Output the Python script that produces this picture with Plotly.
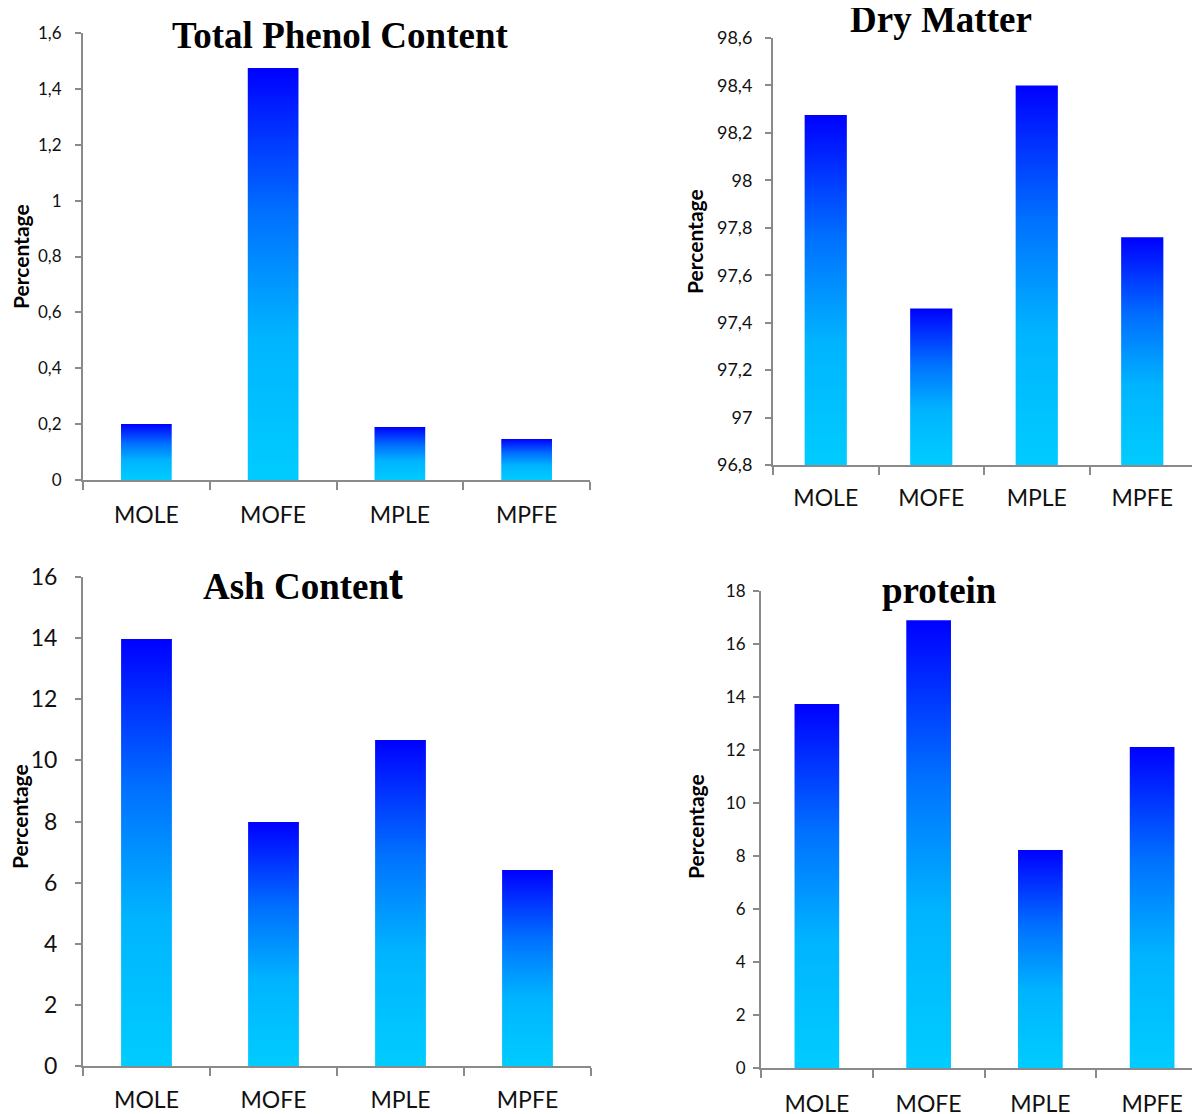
import plotly.graph_objects as go

categories = ["MOLE", "MOFE", "MPLE", "MPFE"]

phenol_values = [0.20, 1.475, 0.19, 0.147]
dry_matter_values = [98.275, 97.46, 98.40, 97.76]
ash_values = [13.97, 7.98, 10.67, 6.41]
protein_values = [13.74, 16.90, 8.23, 12.11]

titles = ["Total Phenol Content", "Dry Matter",
          "Ash Content", "protein"]
y_axis_title = "Percentage"

W, H = 1200, 1114
OFF = 8  # page body margin
BAR_W = 0.4
GRAD = [[0.0, "#00CCFF"], [0.35, "#00B4FF"], [0.65, "#0070FF"], [1.0, "#0000FF"]]
AXIS_COLOR = "#8a8a8a"
TICK_FONT = "Lato, 'Open Sans', sans-serif"
TITLE_FONT = "'Liberation Serif', 'Times New Roman', serif"

def px_x(p):
    return min(1.0, (p - OFF) / W)

def px_y(p):
    return 1 - (p - OFF) / H

panels = [
    dict(values=phenol_values, base=0.0, yrange=[0, 1.6], dtick=0.2,
         xdom=(83, 590), ydom=(480, 33), xmax=3.5, tickfs=17, catfs=23,
         ystand=10, xstand=13,
         title=titles[0], tpos=(340, 35),
         ytitle=(21, 257)),
    dict(values=dry_matter_values, base=96.8, yrange=[96.8, 98.6], dtick=0.2,
         xdom=(773, 1195), ydom=(465, 38), xmax=3.5, tickfs=18, catfs=23,
         ystand=9, xstand=11,
         title=titles[1], tpos=(941, 19),
         ytitle=(695, 242)),
    dict(values=ash_values, base=0.0, yrange=[0, 16], dtick=2,
         xdom=(83, 591), ydom=(1066, 577), xmax=3.5, tickfs=23, catfs=23,
         ystand=13, xstand=12,
         title=titles[2], tpos=(303, 584),
         ytitle=(19, 817)),
    dict(values=protein_values, base=0.0, yrange=[0, 18], dtick=2,
         xdom=(761, 1208), ydom=(1068, 591), xmax=3.5, tickfs=17, catfs=23,
         ystand=4, xstand=14,
         title=titles[3], tpos=(939, 590),
         ytitle=(695, 827)),
]

fig = go.Figure()
annotations = []

for k, p in enumerate(panels):
    n = "" if k == 0 else str(k + 1)
    xa, ya = "x" + n, "y" + n
    for i, v in enumerate(p["values"]):
        b = p["base"]
        fig.add_trace(go.Scatter(
            x=[i - BAR_W / 2, i + BAR_W / 2, i + BAR_W / 2, i - BAR_W / 2, i - BAR_W / 2],
            y=[b, b, v, v, b],
            mode="lines", line=dict(width=0), fill="toself",
            fillgradient=dict(type="vertical", colorscale=GRAD),
            xaxis=xa, yaxis=ya, showlegend=False, hoverinfo="skip",
        ))
    fig.layout["xaxis" + n] = dict(
        domain=[px_x(p["xdom"][0]), px_x(p["xdom"][1])],
        anchor=ya, range=[-0.5, p["xmax"]], automargin=False,
        tickmode="array", tickvals=list(range(len(categories))), ticktext=categories,
        ticks="", showgrid=False, zeroline=False,
        showline=True, linecolor=AXIS_COLOR, linewidth=2,
        tickfont=dict(family=TICK_FONT, size=p["catfs"], color="#111"),
        ticklabelstandoff=p["xstand"],
        minor=dict(tickmode="array", tickvals=[-0.5, 0.5, 1.5, 2.5, 3.5],
                   ticks="outside", ticklen=8, tickwidth=2, tickcolor=AXIS_COLOR,
                   showgrid=False),
        fixedrange=True,
    )
    fig.layout["yaxis" + n] = dict(
        domain=[px_y(p["ydom"][0]), px_y(p["ydom"][1])],
        anchor=xa, range=p["yrange"], tick0=p["yrange"][0], dtick=p["dtick"],
        automargin=False,
        ticks="outside", ticklen=6, tickwidth=2, tickcolor=AXIS_COLOR,
        showgrid=False, zeroline=False,
        showline=True, linecolor=AXIS_COLOR, linewidth=2,
        tickfont=dict(family=TICK_FONT, size=p["tickfs"], color="#111"),
        ticklabelstandoff=p["ystand"],
        fixedrange=True,
    )
    ttext = p["title"]
    if k == 2:
        ttext = "Ash Conten<span style='font-family:Liberation Sans;font-size:42px'>t</span>"
    annotations.append(dict(
        text="<b>" + ttext + "</b>", xref="paper", yref="paper",
        x=px_x(p["tpos"][0]), y=px_y(p["tpos"][1]),
        xanchor="center", yanchor="middle", showarrow=False,
        font=dict(family=TITLE_FONT, size=37, color="#000"),
    ))
    annotations.append(dict(
        text="<b>" + y_axis_title + "</b>", xref="paper", yref="paper",
        x=px_x(p["ytitle"][0]), y=px_y(p["ytitle"][1]),
        xanchor="center", yanchor="middle", showarrow=False, textangle=-90,
        font=dict(family=TICK_FONT, size=21, color="#000"),
    ))

fig.update_layout(
    width=W, height=H, margin=dict(l=0, r=0, t=0, b=0, autoexpand=False),
    paper_bgcolor="white", plot_bgcolor="white",
    separators=", ", annotations=annotations,
)

fig.write_html("out.html")
